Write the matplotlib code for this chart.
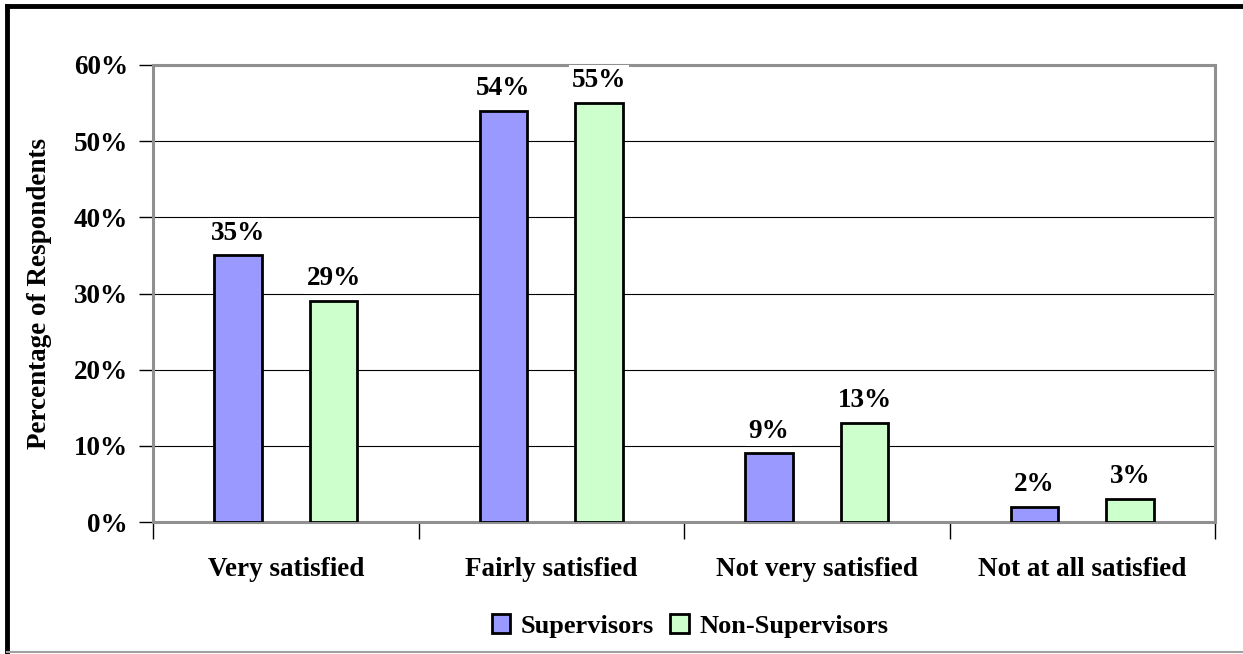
import matplotlib.pyplot as plt
import numpy as np

categories = ["Very satisfied", "Fairly satisfied", "Not very satisfied", "Not at all satisfied"]
supervisors = [35, 54, 9, 2]
non_supervisors = [29, 55, 13, 3]
series_names = ["Supervisors", "Non-Supervisors"]
y_ticks = [0, 10, 20, 30, 40, 50, 60]


def main():
    plt.rcParams['font.family'] = ['Liberation Serif', 'DejaVu Serif']
    plt.rcParams['font.weight'] = 'bold'
    fs = 19.5

    fig = plt.figure(figsize=(12.43, 6.54), dpi=100)
    ax = fig.add_axes([153 / 1243, 1 - 522 / 654, (1215 - 153) / 1243, (522 - 65) / 654])

    x = np.arange(len(categories))
    w = 0.178
    off = 0.18
    colors = ["#9999FF", "#CCFFCC"]
    for vals, dx, c, name in [(supervisors, -off, colors[0], series_names[0]),
                              (non_supervisors, off, colors[1], series_names[1])]:
        bars = ax.bar(x + dx, vals, width=w, color=c, edgecolor="black", linewidth=2,
                      label=name, zorder=3)
        for b, v in zip(bars, vals):
            ax.text(b.get_x() + b.get_width() / 2, v + 1.3, f"{v}%", ha="center", va="bottom",
                    fontsize=fs, fontweight="bold", zorder=4, clip_on=False,
                    bbox=dict(facecolor="white", edgecolor="none", pad=2))

    ax.set_xlim(-0.5, 3.5)
    ax.set_ylim(0, 60)
    ax.set_yticks(y_ticks)
    ax.set_yticklabels([f"{t}%" for t in y_ticks], fontsize=fs, fontweight="bold")
    for t in y_ticks[1:-1]:
        ax.axhline(t, color="black", linewidth=0.8, zorder=1)

    ax.set_xticks(np.arange(-0.5, 4, 1))
    ax.set_xticklabels([])
    ax.tick_params(axis="both", direction="out", length=10, width=1, color="black", pad=8)
    ax.tick_params(axis="x", length=12)
    for i, cat in enumerate(categories):
        ax.text(i, -4.6, cat, ha="center", va="top", fontsize=fs, fontweight="bold")

    for side in ["left", "top", "right", "bottom"]:
        ax.spines[side].set_color("#909090")
        ax.spines[side].set_linewidth(2.2)
        ax.spines[side].set_zorder(2)

    ax.set_ylabel("Percentage of Respondents", fontsize=fs, fontweight="bold", labelpad=16)

    fig.legend(loc="center", bbox_to_anchor=(690 / 1243, 1 - 626 / 654), ncol=2,
               frameon=False, handlelength=0.7, handleheight=0.7,
               handletextpad=0.4, columnspacing=0.6, prop={"weight": "bold", "size": 19})

    # outer chart border: thick left and top, thin grey bottom
    fig.add_artist(plt.Line2D([7 / 1243, 7 / 1243], [0, 1 - 6 / 654], transform=fig.transFigure,
                              color="black", linewidth=3.5, solid_capstyle="projecting"))
    fig.add_artist(plt.Line2D([7 / 1243, 1], [1 - 6 / 654, 1 - 6 / 654], transform=fig.transFigure,
                              color="black", linewidth=3.5, solid_capstyle="projecting"))
    fig.add_artist(plt.Line2D([7 / 1243, 1], [2 / 654, 2 / 654], transform=fig.transFigure,
                              color="#a0a0a0", linewidth=1.5))

    fig.savefig("out.png", dpi=100)


if __name__ == "__main__":
    main()
